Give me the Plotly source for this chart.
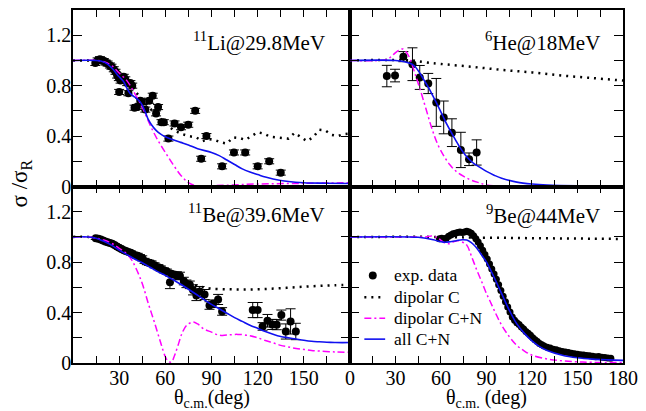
import plotly.graph_objects as go
from plotly.subplots import make_subplots

# ---------------- 11Li @ 29.8 MeV ----------------
li_theta = [14.5, 16, 17.5, 18.5, 20, 21.2, 22.5, 24, 25, 26.5, 27.6, 28.7, 29.8, 30.9, 30,
            33, 34, 35.2, 36, 37.3, 38.5, 40, 41.5, 43.7, 44.6, 47, 49.5, 51.8, 54, 55.3,
            57.5, 59, 62, 66, 70.2, 74.9, 79.4, 83.3, 86.7, 96.9, 104.6, 111.9, 120, 127.5, 135]
li_ratio = [0.98, 1.0, 1.01, 1.0, 0.995, 0.983, 0.975, 0.96, 0.95, 0.93, 0.91, 0.88, 0.86, 0.84, 0.75,
            0.87, 0.85, 0.82, 0.74, 0.82, 0.80, 0.625, 0.63, 0.68, 0.67, 0.61, 0.68, 0.72, 0.58, 0.63,
            0.51, 0.51, 0.38, 0.50, 0.47, 0.49, 0.60, 0.22, 0.40, 0.16, 0.27, 0.27, 0.16, 0.20, 0.11]
li_err = [0.02] * 45

li_dipc_theta = [0, 10, 15, 20, 25, 30, 35, 40, 45, 50, 55, 60, 65, 70, 75, 80, 84, 88, 92, 96, 100,
                 104, 108, 112, 116, 120, 124, 128, 132, 136, 140, 144, 148, 152, 156, 160, 164,
                 168, 172, 176, 180]
li_dipc = [1.0, 1.0, 1.0, 0.99, 0.96, 0.91, 0.84, 0.76, 0.69, 0.62, 0.56, 0.50, 0.45, 0.42, 0.40,
           0.39, 0.36, 0.375, 0.37, 0.35, 0.34, 0.39, 0.385, 0.37, 0.40, 0.43, 0.42, 0.395, 0.39,
           0.385, 0.38, 0.425, 0.39, 0.36, 0.39, 0.45, 0.445, 0.41, 0.40, 0.415, 0.42]

li_dipcn_theta = [0, 15, 20, 25, 30, 35, 40, 45, 50, 55, 60, 65, 70, 75, 80, 85, 90, 100, 120, 150, 180]
li_dipcn = [1.0, 1.0, 0.99, 0.96, 0.9, 0.84, 0.74, 0.63, 0.49, 0.37, 0.27, 0.175, 0.09, 0.03, 0.006,
            0.0, 0.005, 0.01, 0.02, 0.025, 0.03]

li_all_theta = [0, 15, 18, 22, 26, 30, 33, 35, 37, 40, 43, 45, 47, 49, 51, 54, 57, 60, 65, 70, 75,
                81, 90, 95, 100, 105, 110, 115, 120, 125, 130, 140, 150, 165, 180]
li_all = [1.0, 1.0, 0.995, 0.975, 0.93, 0.87, 0.83, 0.78, 0.74, 0.71, 0.68, 0.645, 0.59, 0.53, 0.49,
          0.445, 0.415, 0.395, 0.37, 0.35, 0.33, 0.30, 0.27, 0.245, 0.21, 0.175, 0.14, 0.115, 0.095,
          0.075, 0.06, 0.04, 0.03, 0.026, 0.024]

# ---------------- 6He @ 18 MeV ----------------
he_theta = [24.3, 29.7, 35.2, 41.2, 46.0, 51.6, 56.9, 61.8, 67.2, 73.1, 78.5, 83.5]
he_ratio = [0.876, 0.88, 1.03, 0.97, 0.865, 0.817, 0.667, 0.548, 0.427, 0.29, 0.216, 0.27]
he_err = [0.085, 0.05, 0.04, 0.13, 0.095, 0.08, 0.19, 0.13, 0.11, 0.14, 0.05, 0.10]

he_dipc_theta = [0, 40, 50, 60, 80, 100, 120, 140, 160, 180]
he_dipc = [1.0, 1.0, 0.985, 0.972, 0.95, 0.925, 0.905, 0.88, 0.86, 0.84]

he_dipcn_theta = [0, 20, 25, 28, 32, 35, 38, 40, 43, 46, 50, 54, 58, 62, 66, 70, 75, 80, 85, 90,
                  100, 120, 180]
he_dipcn = [1.0, 1.0, 1.01, 1.04, 1.08, 1.09, 1.05, 1.0, 0.89, 0.78, 0.62, 0.46, 0.33, 0.24, 0.17,
            0.12, 0.08, 0.05, 0.03, 0.012, 0.004, 0.002, 0.0]

he_all_theta = [0, 30, 36, 40, 43, 46, 49, 52, 55, 58, 61, 64, 67, 70, 73, 76, 79, 82, 86, 90, 95,
                100, 110, 120, 130, 150, 180]
he_all = [1.0, 1.0, 0.99, 0.975, 0.95, 0.90, 0.84, 0.78, 0.71, 0.64, 0.565, 0.49, 0.425, 0.36, 0.30,
          0.25, 0.21, 0.18, 0.15, 0.12, 0.09, 0.065, 0.035, 0.02, 0.012, 0.006, 0.004]

# ---------------- 11Be @ 39.6 MeV ----------------
be11_theta = [14.8, 16.5, 18, 19.5, 21, 22.5, 24, 25.5, 27, 28.5, 30, 31.5, 33, 34.5, 36, 37.5, 39,
              40.5, 42, 43.5, 45, 46.5, 48, 49.5, 51, 53, 55.5, 57, 59, 61, 63, 64, 66, 67.5, 69.5,
              72, 73.7, 75.9, 78, 80.2, 82.3, 85.5, 88.7, 91, 94.3, 96.9, 116.8, 120, 123.2, 126.4,
              129.5, 132.4, 135.4, 138.3, 141.4, 144.8]
be11_ratio = [0.99, 0.985, 0.98, 0.972, 0.963, 0.958, 0.952, 0.945, 0.935, 0.925, 0.915, 0.905, 0.895,
              0.888, 0.88, 0.875, 0.862, 0.855, 0.85, 0.84, 0.83, 0.81, 0.80, 0.795, 0.79, 0.775, 0.76,
              0.75, 0.735, 0.725, 0.64, 0.707, 0.70, 0.694, 0.69, 0.65, 0.628, 0.62, 0.58, 0.535,
              0.567, 0.543, 0.456, 0.47, 0.504, 0.409, 0.42, 0.42, 0.29, 0.335, 0.306, 0.304, 0.38,
              0.25, 0.33, 0.25]
be11_err = [0.01, 0.01, 0.01, 0.01, 0.01, 0.01, 0.01, 0.01, 0.01, 0.01, 0.012, 0.012, 0.012, 0.012,
            0.015, 0.015, 0.015, 0.015, 0.02, 0.02, 0.02, 0.02, 0.02, 0.02, 0.02, 0.02, 0.02, 0.02,
            0.02, 0.02, 0.05, 0.02, 0.02, 0.03, 0.03, 0.03, 0.03, 0.03, 0.04, 0.04, 0.04, 0.04, 0.03,
            0.03, 0.04, 0.03, 0.06, 0.06, 0.03, 0.05, 0.04, 0.04, 0.04, 0.06, 0.10, 0.065]

be11_dipc_theta = [0, 10, 15, 20, 25, 30, 35, 40, 45, 50, 55, 60, 65, 70, 75, 80, 85, 90, 100, 110,
                   120, 130, 140, 150, 160, 170, 180]
be11_dipc = [1.0, 1.0, 0.99, 0.97, 0.945, 0.91, 0.88, 0.85, 0.82, 0.78, 0.75, 0.72, 0.69, 0.66,
             0.635, 0.615, 0.60, 0.59, 0.585, 0.583, 0.585, 0.59, 0.597, 0.605, 0.612, 0.617, 0.62]

be11_dipcn_theta = [0, 10, 15, 20, 25, 30, 35, 38, 41, 45, 49, 53, 57, 60, 62, 64, 66, 68, 71, 74,
                    78, 81, 85, 90, 95, 100, 107, 115, 120, 125, 130, 135, 140, 145, 150, 155, 160,
                    170, 180]
be11_dipcn = [1.0, 1.0, 0.99, 0.975, 0.95, 0.91, 0.865, 0.82, 0.75, 0.63, 0.47, 0.32, 0.16, 0.05,
              0.012, 0.008, 0.06, 0.13, 0.24, 0.30, 0.325, 0.31, 0.27, 0.245, 0.22, 0.222, 0.227,
              0.217, 0.20, 0.178, 0.16, 0.14, 0.127, 0.115, 0.108, 0.10, 0.095, 0.088, 0.085]

be11_all_theta = [0, 10, 15, 20, 25, 30, 35, 40, 45, 50, 55, 60, 65, 70, 75, 80, 85, 90, 95, 100,
                  105, 110, 115, 120, 125, 130, 135, 140, 145, 150, 155, 160, 165, 170, 175, 180]
be11_all = [1.0, 1.0, 0.99, 0.965, 0.935, 0.895, 0.86, 0.825, 0.795, 0.76, 0.725, 0.695, 0.66,
            0.625, 0.585, 0.545, 0.505, 0.465, 0.43, 0.395, 0.36, 0.33, 0.30, 0.275, 0.25, 0.228,
            0.21, 0.2, 0.19, 0.18, 0.172, 0.168, 0.165, 0.163, 0.162, 0.163]

# ---------------- 9Be @ 44 MeV ----------------
be9_theta = [59, 60.5, 62, 63.5, 65, 66.5, 68, 69.5, 71, 72.5, 74, 75.5, 77, 78.5, 80, 81.5, 83,
             84.5, 86, 87.5, 89, 90.5, 92, 93.5, 95, 96.5, 98, 99.5, 101, 102.5, 104, 105.5, 107,
             108.5, 110, 111.5, 113, 114.5, 116, 117.5, 119, 120.5, 122, 123.5, 125, 126.5, 128,
             130, 132, 134, 136, 138, 140, 142, 144, 146, 148, 150, 152, 154, 156, 158, 160, 162,
             164, 166, 168, 170, 172]
be9_ratio = [0.985, 0.99, 0.985, 0.99, 1.005, 1.015, 1.025, 1.03, 1.035, 1.04, 1.035, 1.04, 1.045,
             1.04, 1.03, 1.01, 0.985, 0.96, 0.93, 0.895, 0.86, 0.825, 0.785, 0.745, 0.705, 0.665,
             0.62, 0.575, 0.53, 0.485, 0.445, 0.405, 0.365, 0.34, 0.32, 0.305, 0.285, 0.27, 0.25,
             0.235, 0.22, 0.2, 0.185, 0.17, 0.155, 0.145, 0.135, 0.125, 0.118, 0.11, 0.105, 0.098,
             0.092, 0.088, 0.083, 0.078, 0.074, 0.07, 0.066, 0.063, 0.06, 0.057, 0.054, 0.05,
             0.052, 0.046, 0.043, 0.04, 0.038]

be9_dipc_theta = [0, 60, 70, 80, 100, 120, 140, 160, 180]
be9_dipc = [1.0, 1.0, 0.998, 0.995, 0.993, 0.99, 0.988, 0.986, 0.984]

be9_dipcn_theta = [0, 40, 50, 54, 58, 62, 65, 68, 71, 74, 77, 80, 83.5, 87, 90, 92, 96, 100, 105,
                   110, 115, 120, 130, 140, 150, 160, 180]
be9_dipcn = [1.0, 1.0, 1.0, 1.008, 0.99, 0.955, 0.945, 0.96, 0.97, 0.96, 0.935, 0.85, 0.74, 0.64,
             0.55, 0.5, 0.395, 0.30, 0.21, 0.14, 0.095, 0.062, 0.032, 0.017, 0.009, 0.005, 0.003]

be9_all_theta = [0, 40, 45, 50, 55, 60, 63, 66, 70, 74, 77, 80, 83, 86, 90, 95, 100, 105, 110, 115,
                 120, 125, 130, 140, 150, 160, 170, 180]
be9_all = [1.0, 1.0, 0.997, 0.99, 0.978, 0.962, 0.958, 0.962, 0.97, 0.978, 0.975, 0.955, 0.92,
           0.87, 0.80, 0.68, 0.55, 0.42, 0.31, 0.235, 0.175, 0.13, 0.10, 0.062, 0.042, 0.031,
           0.025, 0.021]

panel_labels = ["<sup>11</sup>Li@29.8MeV", "<sup>6</sup>He@18MeV",
                "<sup>11</sup>Be@39.6MeV", "<sup>9</sup>Be@44MeV"]
x_titles = ["θ<sub>c.m.</sub>(deg)", "θ<sub>c.m.</sub> (deg)"]
y_title = "σ /σ<sub>R</sub>"
legend_names = ["exp. data", "dipolar C", "dipolar C+N", "all C+N"]
x_labels_left = [30, 60, 90, 120, 150]
x_labels_right = [0, 30, 60, 90, 120, 150, 180]
y_labels = [0, 0.4, 0.8, 1.2]

FONT = "Liberation Serif"
BLUE = "#1010f0"
MAGENTA = "#ff00ff"
DOT = "2px,5px"
DASHDOT = "7px,3px,2px,3px"

fig = make_subplots(rows=2, cols=2, horizontal_spacing=0, vertical_spacing=0,
                    column_widths=[280, 276])

panels = [
    (1, 1, li_theta, li_ratio, li_err, li_dipc_theta, li_dipc, li_dipcn_theta, li_dipcn,
     li_all_theta, li_all, "linear", 8),
    (1, 2, he_theta, he_ratio, he_err, he_dipc_theta, he_dipc, he_dipcn_theta, he_dipcn,
     he_all_theta, he_all, "spline", 8),
    (2, 1, be11_theta, be11_ratio, be11_err, be11_dipc_theta, be11_dipc, be11_dipcn_theta,
     be11_dipcn, be11_all_theta, be11_all, "spline", 8),
    (2, 2, be9_theta, be9_ratio, None, be9_dipc_theta, be9_dipc, be9_dipcn_theta, be9_dipcn,
     be9_all_theta, be9_all, "spline", 7),
]

for (r, c, tx, ty, te, dcx, dcy, dnx, dny, ax_, ay_, dshape, msize) in panels:
    err = None
    if te is not None:
        err = dict(type="data", array=te, color="black", thickness=1, width=5)
    # measured points first, theory curves drawn over them
    fig.add_trace(go.Scatter(x=tx, y=ty, mode="markers", name=legend_names[0], showlegend=False,
                             marker=dict(color="black", size=msize), error_y=err),
                  row=r, col=c)
    fig.add_trace(go.Scatter(x=dcx, y=dcy, mode="lines", name=legend_names[1], showlegend=False,
                             line=dict(color="black", width=2.5, dash=DOT, shape=dshape)),
                  row=r, col=c)
    fig.add_trace(go.Scatter(x=dnx, y=dny, mode="lines", name=legend_names[2], showlegend=False,
                             line=dict(color=MAGENTA, width=1.5, dash=DASHDOT, shape="spline")),
                  row=r, col=c)
    fig.add_trace(go.Scatter(x=ax_, y=ay_, mode="lines", name=legend_names[3], showlegend=False,
                             line=dict(color=BLUE, width=1.6, shape="spline")),
                  row=r, col=c)

axis_common = dict(showgrid=False, zeroline=False, showline=True, linecolor="black",
                   linewidth=1.5, mirror="ticks", ticks="inside", tickcolor="black",
                   tickwidth=1.2, tickfont=dict(family=FONT, size=20, color="black"))

for r in (1, 2):
    for c in (1, 2):
        xv = x_labels_left if c == 1 else x_labels_right
        fig.update_xaxes(range=[0, 180], tickmode="array", tickvals=xv,
                         ticktext=[str(v) for v in xv], ticklen=7, showticklabels=(r == 2),
                         minor=dict(dtick=15, tick0=0, ticklen=7, ticks="inside",
                                    tickcolor="black", tickwidth=1.2),
                         row=r, col=c, **axis_common)
        fig.update_yaxes(range=[0, 1.4], tickmode="array", tickvals=y_labels,
                         ticktext=["0" if v == 0 else "%.1f" % v for v in y_labels],
                         ticklen=9, showticklabels=(c == 1),
                         minor=dict(dtick=0.2, tick0=0, ticklen=9, ticks="inside",
                                    tickcolor="black", tickwidth=1.2),
                         row=r, col=c, **axis_common)

# pull the tick labels a little closer to the frame
try:
    fig.update_xaxes(ticklabelstandoff=-4)
    fig.update_yaxes(ticklabelstandoff=-4)
except ValueError:
    fig.update_xaxes(ticklabelstandoff=0)
    fig.update_yaxes(ticklabelstandoff=0)

W, H = 646, 411
ML, MR, MT, MB = 73, 18, 8, 48
pw, ph = W - ML - MR, H - MT - MB


def px(xp):
    return (xp - ML) / pw


def py(yp):
    return 1 - (yp - MT) / ph


annotations = []
label_pos = [(329, 40), (607, 40), (329, 213), (607, 214)]
for text, (lx, ly) in zip(panel_labels, label_pos):
    annotations.append(dict(text=text, x=px(lx), y=py(ly), xref="paper", yref="paper",
                            xanchor="right", yanchor="middle", showarrow=False,
                            font=dict(family=FONT, size=21, color="black")))
for text, cx in zip(x_titles, (213, 490)):
    annotations.append(dict(text=text, x=px(cx), y=py(399), xref="paper", yref="paper",
                            xanchor="center", yanchor="middle", showarrow=False,
                            font=dict(family=FONT, size=20, color="black")))
annotations.append(dict(text=y_title, x=px(21), y=py(182), xref="paper", yref="paper",
                        xanchor="center", yanchor="middle", showarrow=False, textangle=-90,
                        font=dict(family=FONT, size=23, color="black")))

# legend of the 9Be panel: keys drawn as shapes, labels as text
rows_y = [275, 297, 318, 339]
key_x0, key_x1, text_x = 367, 388, 395
shapes = [
    dict(type="circle", xref="paper", yref="paper", x0=px(371.5), x1=px(379.5),
         y0=py(rows_y[0] + 4), y1=py(rows_y[0] - 4), fillcolor="black",
         line=dict(color="black", width=0)),
    dict(type="line", xref="paper", yref="paper", x0=px(key_x0), x1=px(key_x1),
         y0=py(rows_y[1]), y1=py(rows_y[1]), line=dict(color="black", width=2.5, dash=DOT)),
    dict(type="line", xref="paper", yref="paper", x0=px(key_x0), x1=px(key_x1),
         y0=py(rows_y[2]), y1=py(rows_y[2]), line=dict(color=MAGENTA, width=1.5, dash=DASHDOT)),
    dict(type="line", xref="paper", yref="paper", x0=px(key_x0), x1=px(key_x1),
         y0=py(rows_y[3]), y1=py(rows_y[3]), line=dict(color=BLUE, width=1.6)),
]
for name, ry in zip(legend_names, rows_y):
    annotations.append(dict(text=name, x=px(text_x), y=py(ry), xref="paper", yref="paper",
                            xanchor="left", yanchor="middle", showarrow=False,
                            font=dict(family=FONT, size=17.5, color="black")))

fig.update_layout(
    width=W, height=H,
    margin=dict(l=ML, r=MR, t=MT, b=MB),
    paper_bgcolor="white", plot_bgcolor="white",
    annotations=annotations,
    shapes=shapes,
    showlegend=False,
)

fig.write_html("out.html")
